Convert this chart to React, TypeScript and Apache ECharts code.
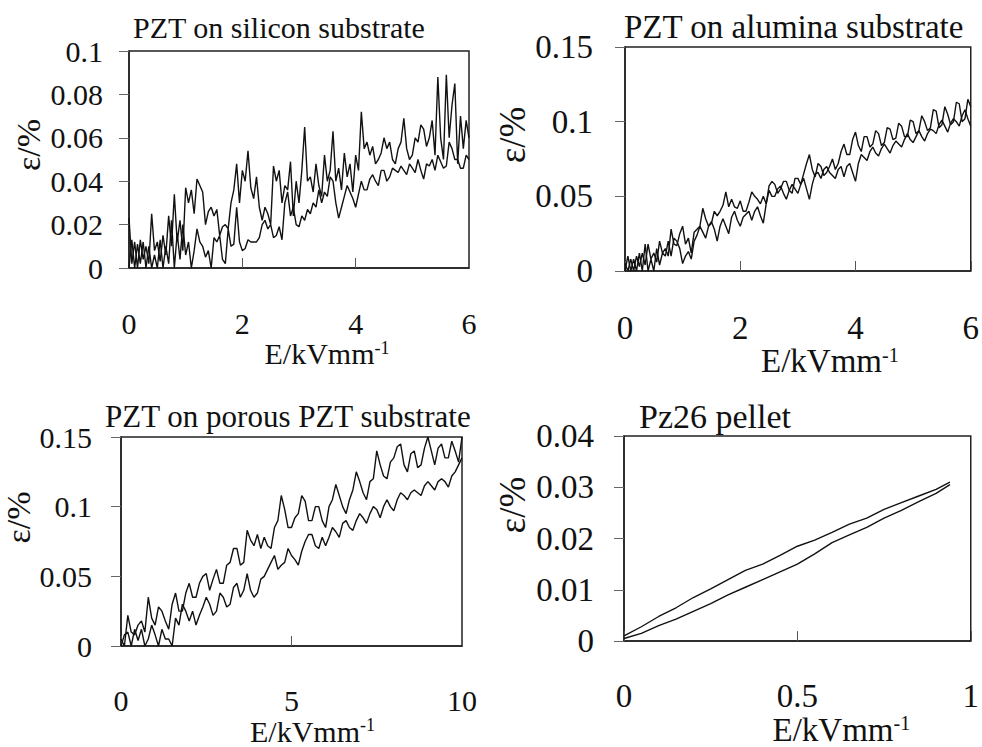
import React, { useEffect, useRef } from "react";
import * as echarts from "echarts";

// ---------- data ----------
const X_06 = [
  0, 0.05, 0.1, 0.15, 0.2, 0.25, 0.3, 0.35, 0.4, 0.45,
  0.5, 0.55, 0.6, 0.65, 0.7, 0.75, 0.8, 0.85, 0.9, 0.95,
  1.0, 1.05, 1.1, 1.15, 1.2, 1.25, 1.3, 1.35, 1.4, 1.45,
  1.5, 1.55, 1.6, 1.65, 1.7, 1.75, 1.8, 1.85, 1.9, 1.95,
  2.0, 2.05, 2.1, 2.15, 2.2, 2.25, 2.3, 2.35, 2.4, 2.45,
  2.5, 2.55, 2.6, 2.65, 2.7, 2.75, 2.8, 2.85, 2.9, 2.95,
  3.0, 3.05, 3.1, 3.15, 3.2, 3.25, 3.3, 3.35, 3.4, 3.45,
  3.5, 3.55, 3.6, 3.65, 3.7, 3.75, 3.8, 3.85, 3.9, 3.95,
  4.0, 4.05, 4.1, 4.15, 4.2, 4.25, 4.3, 4.35, 4.4, 4.45,
  4.5, 4.55, 4.6, 4.65, 4.7, 4.75, 4.8, 4.85, 4.9, 4.95,
  5.0, 5.05, 5.1, 5.15, 5.2, 5.25, 5.3, 5.35, 5.4, 5.45,
  5.5, 5.55, 5.6, 5.65, 5.7, 5.75, 5.8, 5.85, 5.9, 5.95,
  6.0,
];

const SILICON_A = [
  0.023, 0.002, 0.012, 0.000, 0.013, 0.004, 0.010, 0.002, 0.025, 0.008,
  0.012, 0.003, 0.015, 0.006, 0.024, 0.010, 0.034, 0.012, 0.022, 0.008,
  0.037, 0.030, 0.036, 0.025, 0.041, 0.038, 0.035, 0.020, 0.026, 0.028,
  0.024, 0.027, 0.015, 0.019, 0.020, 0.018, 0.030, 0.036, 0.048, 0.030,
  0.045, 0.040, 0.054, 0.037, 0.032, 0.042, 0.028, 0.022, 0.028, 0.025,
  0.020, 0.047, 0.040, 0.045, 0.030, 0.038, 0.036, 0.049, 0.024, 0.040,
  0.030, 0.045, 0.065, 0.040, 0.042, 0.035, 0.048, 0.038, 0.033, 0.052,
  0.040, 0.045, 0.063, 0.040, 0.046, 0.036, 0.053, 0.042, 0.048, 0.035,
  0.052, 0.045, 0.072, 0.055, 0.058, 0.052, 0.056, 0.048, 0.050, 0.053,
  0.060, 0.055, 0.058, 0.050, 0.048, 0.055, 0.058, 0.069, 0.055, 0.050,
  0.052, 0.060, 0.058, 0.066, 0.064, 0.056, 0.060, 0.068, 0.052, 0.088,
  0.060, 0.050, 0.089, 0.060, 0.075, 0.085, 0.048, 0.070, 0.055, 0.068,
  0.060,
];
const SILICON_B = [
  0.000, 0.013, 0.000, 0.011, 0.002, 0.012, 0.000, 0.010, 0.000, 0.006,
  0.000, 0.013, 0.000, 0.010, 0.002, 0.022, 0.000, 0.016, 0.004, 0.020,
  0.006, 0.012, 0.000, 0.008, 0.018, 0.012, 0.010, 0.005, 0.008, 0.000,
  0.014, 0.012, 0.015, 0.004, 0.002, 0.018, 0.010, 0.011, 0.028, 0.012,
  0.008, 0.009, 0.013, 0.012, 0.012, 0.012, 0.014, 0.020, 0.022, 0.018,
  0.020, 0.014, 0.015, 0.019, 0.013, 0.030, 0.035, 0.024, 0.028, 0.020,
  0.019, 0.024, 0.022, 0.027, 0.025, 0.030, 0.028, 0.036, 0.030, 0.035,
  0.033, 0.042, 0.040, 0.030, 0.023, 0.028, 0.033, 0.038, 0.035, 0.032,
  0.028, 0.034, 0.040, 0.036, 0.036, 0.041, 0.043, 0.040, 0.038, 0.045,
  0.045, 0.040, 0.042, 0.046, 0.045, 0.044, 0.047, 0.045, 0.043, 0.048,
  0.046, 0.044, 0.050, 0.045, 0.041, 0.048, 0.047, 0.050, 0.045, 0.052,
  0.049, 0.046, 0.047, 0.058, 0.055, 0.050, 0.050, 0.046, 0.046, 0.052,
  0.050,
];

const ALUMINA_A = [
  0.005, 0.000, 0.008, 0.000, 0.010, 0.003, 0.012, 0.004, 0.018, 0.008,
  0.012, 0.006, 0.020, 0.012, 0.015, 0.010, 0.028, 0.018, 0.017, 0.025,
  0.030, 0.018, 0.022, 0.012, 0.026, 0.028, 0.030, 0.042, 0.035, 0.030,
  0.032, 0.040, 0.037, 0.040, 0.044, 0.053, 0.043, 0.048, 0.043, 0.042,
  0.047, 0.040, 0.040, 0.046, 0.053, 0.050, 0.048, 0.045, 0.050, 0.045,
  0.057, 0.060, 0.058, 0.052, 0.055, 0.060, 0.060, 0.054, 0.052, 0.062,
  0.062, 0.058, 0.065, 0.072, 0.078, 0.068, 0.063, 0.072, 0.070, 0.064,
  0.066, 0.070, 0.075, 0.068, 0.072, 0.080, 0.085, 0.078, 0.078, 0.088,
  0.093, 0.084, 0.080, 0.090, 0.090, 0.083, 0.085, 0.094, 0.092, 0.084,
  0.086, 0.096, 0.095, 0.088, 0.089, 0.099, 0.097, 0.090, 0.090, 0.101,
  0.100, 0.092, 0.094, 0.104, 0.100, 0.094, 0.096, 0.108, 0.107, 0.096,
  0.098, 0.110, 0.105, 0.098, 0.100, 0.113, 0.112, 0.100, 0.102, 0.115,
  0.110,
];
const ALUMINA_B = [
  0.000, 0.010, 0.000, 0.008, 0.000, 0.012, 0.000, 0.018, 0.000, 0.008,
  0.000, 0.015, 0.004, 0.012, 0.010, 0.020, 0.010, 0.022, 0.020, 0.015,
  0.005, 0.010, 0.013, 0.008, 0.020, 0.024, 0.030, 0.026, 0.022, 0.030,
  0.033, 0.028, 0.020, 0.030, 0.035, 0.030, 0.025, 0.036, 0.040, 0.034,
  0.030, 0.036, 0.038, 0.040, 0.034, 0.040, 0.043, 0.037, 0.032, 0.045,
  0.054, 0.050, 0.050, 0.055, 0.057, 0.052, 0.048, 0.054, 0.058, 0.055,
  0.052, 0.058, 0.062, 0.055, 0.048, 0.058, 0.065, 0.066, 0.062, 0.068,
  0.070, 0.066, 0.064, 0.062, 0.068, 0.070, 0.063, 0.070, 0.072, 0.066,
  0.060, 0.072, 0.078, 0.076, 0.074, 0.080, 0.083, 0.079, 0.077, 0.082,
  0.085, 0.082, 0.079, 0.084, 0.087, 0.085, 0.083, 0.088, 0.092, 0.088,
  0.086, 0.090, 0.094, 0.090, 0.087, 0.092, 0.095, 0.094, 0.092, 0.098,
  0.101, 0.097, 0.093, 0.099, 0.102, 0.100, 0.097, 0.104, 0.108, 0.102,
  0.097,
];

const X_010 = [
  0, 0.1, 0.2, 0.3, 0.4, 0.5, 0.6, 0.7, 0.8, 0.9,
  1.0, 1.1, 1.2, 1.3, 1.4, 1.5, 1.6, 1.7, 1.8, 1.9,
  2.0, 2.1, 2.2, 2.3, 2.4, 2.5, 2.6, 2.7, 2.8, 2.9,
  3.0, 3.1, 3.2, 3.3, 3.4, 3.5, 3.6, 3.7, 3.8, 3.9,
  4.0, 4.1, 4.2, 4.3, 4.4, 4.5, 4.6, 4.7, 4.8, 4.9,
  5.0, 5.1, 5.2, 5.3, 5.4, 5.5, 5.6, 5.7, 5.8, 5.9,
  6.0, 6.1, 6.2, 6.3, 6.4, 6.5, 6.6, 6.7, 6.8, 6.9,
  7.0, 7.1, 7.2, 7.3, 7.4, 7.5, 7.6, 7.7, 7.8, 7.9,
  8.0, 8.1, 8.2, 8.3, 8.4, 8.5, 8.6, 8.7, 8.8, 8.9,
  9.0, 9.1, 9.2, 9.3, 9.4, 9.5, 9.6, 9.7, 9.8, 9.9,
  10.0,
];
const POROUS_A = [
  0.005, 0.000, 0.022, 0.010, 0.008, 0.015, 0.018, 0.010, 0.035, 0.020,
  0.015, 0.028, 0.025, 0.018, 0.012, 0.030, 0.038, 0.025, 0.025, 0.038,
  0.045, 0.035, 0.035, 0.045, 0.050, 0.052, 0.040, 0.048, 0.055, 0.045,
  0.045, 0.058, 0.060, 0.070, 0.070, 0.058, 0.060, 0.083, 0.076, 0.072,
  0.080, 0.070, 0.078, 0.072, 0.070, 0.085, 0.090, 0.108, 0.098, 0.085,
  0.085, 0.092, 0.095, 0.108, 0.104, 0.090, 0.090, 0.100, 0.100, 0.090,
  0.085, 0.100, 0.105, 0.116, 0.108, 0.100, 0.095, 0.105, 0.112, 0.125,
  0.118, 0.110, 0.105, 0.118, 0.120, 0.140, 0.130, 0.122, 0.120, 0.132,
  0.135, 0.143, 0.145, 0.130, 0.125, 0.138, 0.140, 0.128, 0.130, 0.142,
  0.150, 0.140, 0.130, 0.142, 0.145, 0.135, 0.135, 0.147, 0.140, 0.132,
  0.150,
];
const POROUS_B = [
  0.000, 0.008, 0.010, 0.000, 0.012, 0.004, 0.012, 0.000, 0.005, 0.015,
  0.008, 0.000, 0.012, 0.005, 0.005, 0.000, 0.020, 0.015, 0.030, 0.025,
  0.018, 0.025, 0.015, 0.022, 0.028, 0.035, 0.030, 0.022, 0.025, 0.038,
  0.035, 0.028, 0.030, 0.042, 0.045, 0.035, 0.040, 0.052, 0.040, 0.035,
  0.038, 0.048, 0.050, 0.055, 0.060, 0.065, 0.055, 0.058, 0.060, 0.070,
  0.065, 0.062, 0.058, 0.068, 0.075, 0.080, 0.080, 0.072, 0.070, 0.078,
  0.072, 0.078, 0.085, 0.082, 0.078, 0.088, 0.090, 0.085, 0.083, 0.090,
  0.095, 0.092, 0.088, 0.095, 0.100, 0.098, 0.092, 0.100, 0.105, 0.100,
  0.097, 0.105, 0.110, 0.108, 0.105, 0.110, 0.112, 0.110, 0.108, 0.115,
  0.118, 0.115, 0.112, 0.118, 0.120, 0.118, 0.114, 0.122, 0.125, 0.130,
  0.135,
];

const X_PELLET = [
  0, 0.05, 0.1, 0.15, 0.2, 0.25, 0.3, 0.35, 0.4, 0.45,
  0.5, 0.55, 0.6, 0.65, 0.7, 0.75, 0.8, 0.85, 0.9, 0.94,
];
const PELLET_UP = [
  0.0010, 0.0028, 0.0048, 0.0065, 0.0085, 0.0102, 0.0120, 0.0138, 0.0150, 0.0167,
  0.0185, 0.0197, 0.0212, 0.0228, 0.0240, 0.0257, 0.0270, 0.0283, 0.0296, 0.0310,
];
const PELLET_LOW = [
  0.0005, 0.0015, 0.0030, 0.0043, 0.0058, 0.0073, 0.0090, 0.0105, 0.0120, 0.0135,
  0.0150, 0.0170, 0.0192, 0.0207, 0.0222, 0.0240, 0.0255, 0.0272, 0.0288, 0.0305,
];

const TITLES = [
  "PZT on silicon substrate",
  "PZT on alumina substrate",
  "PZT on porous PZT substrate",
  "Pz26 pellet",
];
const X_MAX = [6, 6, 10, 1];
const X_INT = [2, 2, 5, 0.5];
const Y_MAX = [0.1, 0.15, 0.15, 0.04];
const Y_INT = [0.02, 0.05, 0.05, 0.01];
const X_NAME = "{a|E/kVmm}{b|-1}";
const Y_NAME = "ε/%";

// ---------- layout ----------
const FONT = "Liberation Serif";
const INK = "#111";
const PANELS = [
  { grid: { left: 129, top: 51, width: 340, height: 217 }, fs: 30, titleFs: 30, titlePos: [133, 12], yLM: 26, xLM: 40, xNG: 48, xNP: 56, yNG: 84, yNP: 29 },
  { grid: { left: 625, top: 47, width: 349, height: 224 }, fs: 33, titleFs: 33, titlePos: [624, 10], yLM: 32, xLM: 40, xNG: 45, xNP: 64, yNG: 94, yNP: 48 },
  { grid: { left: 121, top: 437, width: 341, height: 212 }, fs: 30, titleFs: 31, titlePos: [105, 401], yLM: 29, xLM: 39, xNG: 70, xNP: 42, yNG: 81, yNP: 48 },
  { grid: { left: 624, top: 436, width: 350, height: 215 }, fs: 33, titleFs: 34, titlePos: [639, 399], yLM: 30, xLM: 38, xNG: 68, xNP: 88, yNG: 93, yNP: 67 },
];

const SERIES_DATA: [number[], number[]][][] = [
  [[X_06, SILICON_A], [X_06, SILICON_B]],
  [[X_06, ALUMINA_A], [X_06, ALUMINA_B]],
  [[X_010, POROUS_A], [X_010, POROUS_B]],
  [[X_PELLET, PELLET_UP], [X_PELLET, PELLET_LOW]],
];

function pairs(xs: number[], ys: number[]) {
  return xs.map((x, i) => [x, ys[i]]);
}

function fmt(v: number) {
  return String(parseFloat(v.toFixed(3)));
}

function buildOption() {
  const grid: any[] = [];
  const xAxis: any[] = [];
  const yAxis: any[] = [];
  const series: any[] = [];
  const title: any[] = [];
  PANELS.forEach((p, i) => {
    grid.push({
      ...p.grid,
      show: true,
      borderColor: "#222",
      borderWidth: 1.5,
      containLabel: false,
    });
    title.push({
      text: TITLES[i],
      left: p.titlePos[0],
      top: p.titlePos[1],
      padding: 0,
      textStyle: { fontFamily: FONT, fontSize: p.titleFs, fontWeight: "normal", color: INK },
    });
    xAxis.push({
      gridIndex: i,
      type: "value",
      min: 0,
      max: X_MAX[i],
      interval: X_INT[i],
      axisLine: { show: true, lineStyle: { color: "#222", width: 1.5 } },
      axisTick: { show: true, inside: true, length: 10, lineStyle: { color: "#555", width: 1 } },
      axisLabel: { margin: p.xLM, fontFamily: FONT, fontSize: p.fs, color: INK, formatter: fmt },
      splitLine: { show: false },
      name: X_NAME,
      nameLocation: "middle",
      nameGap: p.xNG,
      nameTextStyle: {
        padding: [0, 0, 0, p.xNP],
        rich: {
          a: { fontFamily: FONT, fontSize: p.fs, color: INK },
          b: { fontFamily: FONT, fontSize: Math.round(p.fs * 0.6), color: INK, verticalAlign: "top" },
        },
      },
    });
    yAxis.push({
      gridIndex: i,
      type: "value",
      min: 0,
      max: Y_MAX[i],
      interval: Y_INT[i],
      axisLine: { show: true, lineStyle: { color: "#222", width: 1.5 } },
      axisTick: { show: true, inside: false, length: 10, lineStyle: { color: "#666", width: 1 } },
      axisLabel: { margin: p.yLM, fontFamily: FONT, fontSize: p.fs, color: INK, formatter: fmt },
      splitLine: { show: false },
      name: Y_NAME,
      nameLocation: "middle",
      nameGap: p.yNG,
      nameTextStyle: { fontFamily: FONT, fontSize: p.fs + 4, color: INK, padding: [0, 0, 0, p.yNP] },
    });
    SERIES_DATA[i].forEach(([xs, ys]) => {
      series.push({
        type: "line",
        xAxisIndex: i,
        yAxisIndex: i,
        data: pairs(xs, ys),
        showSymbol: false,
        symbol: "none",
        lineStyle: { color: INK, width: 1.4 },
        clip: true,
      });
    });
  });
  return { animation: false, backgroundColor: "#fff", title, grid, xAxis, yAxis, series };
}

export default function App() {
  const ref = useRef<HTMLDivElement>(null);
  useEffect(() => {
    const chart = echarts.init(ref.current!, null, { renderer: "svg" });
    chart.setOption(buildOption() as any);
    return () => chart.dispose();
  }, []);
  return (
    <div
      ref={ref}
      style={{ position: "absolute", left: 0, top: 0, width: 982, height: 747, background: "#fff" }}
    />
  );
}
